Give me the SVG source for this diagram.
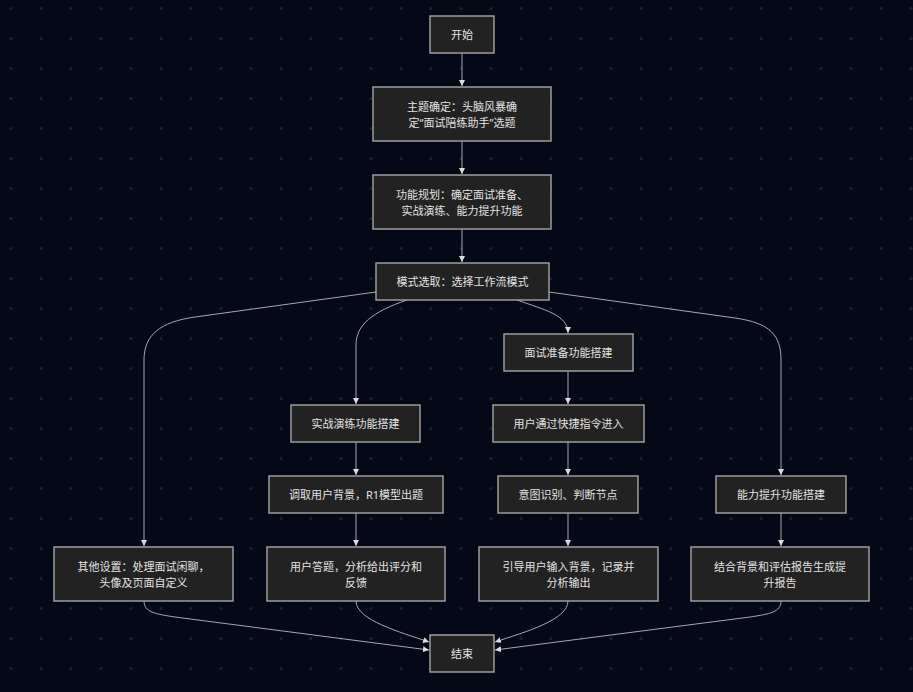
<svg xmlns="http://www.w3.org/2000/svg" width="913" height="692" viewBox="0 0 913 692">
<defs>
<pattern id="dots" width="30" height="30" patternUnits="userSpaceOnUse">
<circle cx="11" cy="8.5" r="1.6" fill="#1b2130"/>
</pattern>
<marker id="arr" viewBox="0 0 10 10" refX="10" refY="5" markerWidth="6" markerHeight="6" markerUnits="userSpaceOnUse" orient="auto">
<path d="M0,0 L10,5 L0,10 z" fill="#dddddd"/>
</marker>
<style>
.n rect{fill:#222222;stroke:#9c9c9c;stroke-width:1.5}
.n text{fill:#e2e2e2;font-family:"Noto Sans","Noto Sans CJK SC",sans-serif;font-size:11px;text-anchor:middle;dominant-baseline:central}
#edges path{fill:none;stroke:#a8a8a8;stroke-width:1;marker-end:url(#arr)}
</style>
</defs>
<rect width="913" height="692" fill="#050816"/>
<rect width="913" height="692" fill="url(#dots)"/>
<g id="edges">
<path d="M462,53 L462,86"/>
<path d="M462,141 L462,174"/>
<path d="M462,229 L462,262"/>
<path d="M376,292 L195,317 C160,322 144,335 144,360 L144,546"/>
<path d="M407,300 C372,312 356,325 356,345 L356,404"/>
<path d="M517,300 C545,310 568,315 568,333"/>
<path d="M549,292 L735,318 C770,323 781,335 781,360 L781,475"/>
<path d="M356,442 L356,475"/>
<path d="M356,513 L356,546"/>
<path d="M568,371 L568,404"/>
<path d="M568,442 L568,475"/>
<path d="M568,513 L568,546"/>
<path d="M781,513 L781,546"/>
<path d="M144,601 C144,612 155,614 175,617 L429,650"/>
<path d="M356,601 C356,620 400,632 429,642"/>
<path d="M568,601 C568,620 525,632 495,642"/>
<path d="M781,601 C781,612 770,614 750,617 L495,650"/>
</g>
<g id="start" class="n"><rect x="430" y="16" width="64" height="37"/><text x="462" y="34.5">开始</text></g>
<g id="topic" class="n"><rect x="373" y="87" width="178" height="54"/><text x="462" y="106">主题确定：头脑风暴确</text><text x="462" y="122">定“面试陪练助手”选题</text></g>
<g id="plan" class="n"><rect x="373" y="175" width="178" height="54"/><text x="462" y="194">功能规划：确定面试准备、</text><text x="462" y="210">实战演练、能力提升功能</text></g>
<g id="mode" class="n"><rect x="376" y="263" width="173" height="37"/><text x="462.5" y="281.5">模式选取：选择工作流模式</text></g>
<g id="prep" class="n"><rect x="504" y="334" width="129" height="37"/><text x="568.5" y="352.5">面试准备功能搭建</text></g>
<g id="practice" class="n"><rect x="291" y="405" width="129" height="37"/><text x="355.5" y="423.5">实战演练功能搭建</text></g>
<g id="shortcut" class="n"><rect x="493" y="405" width="151" height="37"/><text x="568.5" y="423.5">用户通过快捷指令进入</text></g>
<g id="fetch" class="n"><rect x="269" y="476" width="174" height="37"/><text x="356" y="494.5">调取用户背景，R1模型出题</text></g>
<g id="intent" class="n"><rect x="498" y="476" width="140" height="37"/><text x="568" y="494.5">意图识别、判断节点</text></g>
<g id="improve" class="n"><rect x="716" y="476" width="130" height="37"/><text x="781" y="494.5">能力提升功能搭建</text></g>
<g id="other" class="n"><rect x="54" y="547" width="179" height="54"/><text x="143.5" y="566">其他设置：处理面试闲聊，</text><text x="143.5" y="582">头像及页面自定义</text></g>
<g id="answer" class="n"><rect x="267" y="547" width="178" height="54"/><text x="356" y="566">用户答题，分析给出评分和</text><text x="356" y="582">反馈</text></g>
<g id="guide" class="n"><rect x="479" y="547" width="179" height="54"/><text x="568.5" y="566">引导用户输入背景，记录并</text><text x="568.5" y="582">分析输出</text></g>
<g id="report" class="n"><rect x="691" y="547" width="178" height="54"/><text x="780" y="566">结合背景和评估报告生成提</text><text x="780" y="582">升报告</text></g>
<g id="end" class="n"><rect x="430" y="635" width="64" height="37"/><text x="462" y="653.5">结束</text></g>
</svg>
